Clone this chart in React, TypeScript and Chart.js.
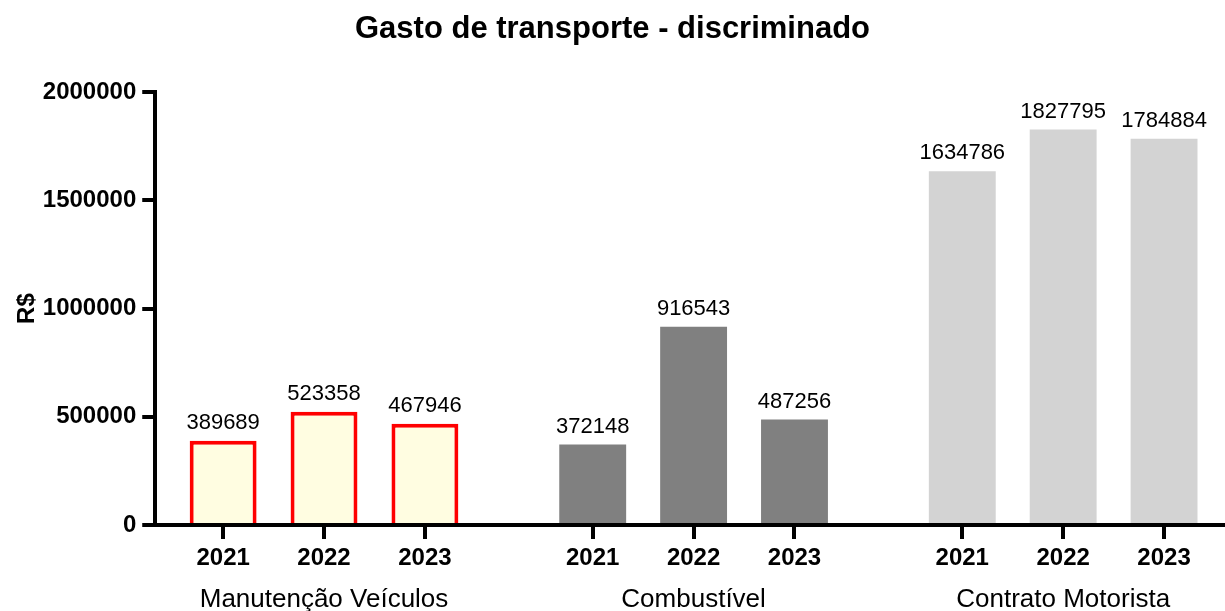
import React, { useEffect, useRef } from "react";
import { Chart, registerables } from "chart.js";

Chart.register(...registerables);

const categories = ["Manutenção Veículos", "Combustível", "Contrato Motorista"];
const years = ["2021", "2022", "2023"];
const manutencao = [389689, 523358, 467946];
const combustivel = [372148, 916543, 487256];
const contrato = [1634786, 1827795, 1784884];
const yTicks = [0, 500000, 1000000, 1500000, 2000000];

const GROUP_GAP = 0.663;
const FONT = "'Liberation Sans', Arial, sans-serif";

const pos = (g: number, i: number) => g * (years.length + GROUP_GAP) + i;

const valueLabels = {
  id: "valueLabels",
  afterDatasetsDraw(chart: any) {
    const ctx = chart.ctx;
    ctx.save();
    ctx.font = `22px ${FONT}`;
    ctx.fillStyle = "#000";
    ctx.textAlign = "center";
    ctx.textBaseline = "bottom";
    chart.data.datasets.forEach((ds: any, di: number) => {
      const meta = chart.getDatasetMeta(di);
      meta.data.forEach((el: any, i: number) => {
        ctx.fillText(String(ds.data[i].y), el.x, el.y - 7);
      });
    });
    ctx.restore();
  },
};

export default function App() {
  const ref = useRef<HTMLCanvasElement>(null);
  useEffect(() => {
    if (!ref.current) return;
    const series = [manutencao, combustivel, contrato];
    const styles = [
      { backgroundColor: "#FFFDE1", borderColor: "#FF0000", borderWidth: 4 },
      { backgroundColor: "#808080", borderColor: "#808080", borderWidth: 0 },
      { backgroundColor: "#D3D3D3", borderColor: "#D3D3D3", borderWidth: 0 },
    ];
    const barPositions: number[] = [];
    categories.forEach((_, g) => years.forEach((__, i) => barPositions.push(pos(g, i))));
    const groupCenters = categories.map((_, g) => pos(g, (years.length - 1) / 2));
    const xMin = -0.673;
    const xMax = pos(categories.length - 1, years.length - 1) + 0.604;

    const chart = new Chart(ref.current, {
      type: "bar",
      data: {
        datasets: series.map((vals, g) => ({
          label: categories[g],
          data: vals.map((v, i) => ({ x: pos(g, i), y: v })),
          grouped: false,
          barPercentage: 0.663,
          categoryPercentage: 1,
          borderSkipped: "start",
          ...styles[g],
        })) as any,
      },
      options: {
        responsive: false,
        animation: false,
        layout: { padding: { left: 0, right: 0, top: 0, bottom: -10 } },
        plugins: {
          legend: { display: false },
          tooltip: { enabled: false },
          title: {
            display: true,
            text: "Gasto de transporte - discriminado",
            color: "#000",
            font: { family: FONT, size: 31, weight: "bold" },
            padding: { top: 11, bottom: 44 },
          },
        },
        scales: {
          x: {
            type: "linear",
            position: "bottom",
            min: xMin,
            max: xMax,
            offset: false,
            afterBuildTicks: (axis: any) => {
              axis.ticks = barPositions.map((v) => ({ value: v }));
            },
            ticks: {
              autoSkip: false,
              maxRotation: 0,
              color: "#000",
              padding: 5,
              font: { family: FONT, size: 24, weight: "bold" },
              callback: (_v: any, idx: number) => years[idx % years.length],
            },
            grid: {
              offset: false,
              drawOnChartArea: false,
              drawTicks: true,
              tickLength: 14,
              lineWidth: 4,
              color: "#000",
            },
            border: { display: true, width: 4, color: "#000" },
          },
          x2: {
            type: "linear",
            position: "bottom",
            min: xMin,
            max: xMax,
            offset: false,
            afterBuildTicks: (axis: any) => {
              axis.ticks = groupCenters.map((v) => ({ value: v }));
            },
            ticks: {
              autoSkip: false,
              maxRotation: 0,
              color: "#000",
              padding: 6,
              font: { family: FONT, size: 26 },
              callback: (_v: any, idx: number) => categories[idx],
            },
            grid: { display: false, drawTicks: false },
            border: { display: false },
          },
          y: {
            type: "linear",
            min: 0,
            max: 2000000,
            afterBuildTicks: (axis: any) => {
              axis.ticks = yTicks.map((v) => ({ value: v }));
            },
            ticks: {
              color: "#000",
              padding: 6,
              font: { family: FONT, size: 24, weight: "bold" },
              callback: (v: any) => String(v),
            },
            grid: {
              drawOnChartArea: false,
              drawTicks: true,
              tickLength: 13,
              lineWidth: 4,
              color: "#000",
            },
            border: { display: true, width: 4, color: "#000" },
            title: {
              display: true,
              text: "R$",
              color: "#000",
              font: { family: FONT, size: 24, weight: "bold" },
              padding: { top: 13, bottom: -5 },
            },
          },
        },
      },
      plugins: [valueLabels],
    });
    return () => chart.destroy();
  }, []);

  return (
    <div style={{ position: "absolute", left: 0, top: 0, width: 1225, height: 611 }}>
      <canvas ref={ref} width={1225} height={611} style={{ display: "block" }} />
    </div>
  );
}
